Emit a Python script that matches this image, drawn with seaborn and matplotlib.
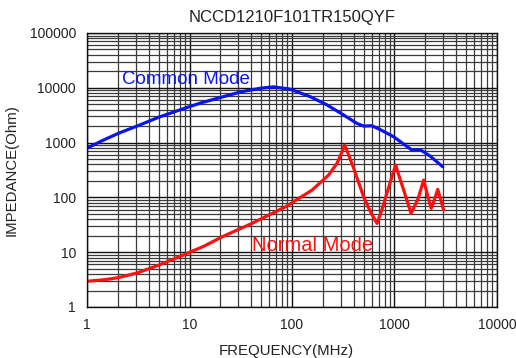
import numpy as np
import pandas as pd
import matplotlib
matplotlib.use("Agg")
import matplotlib.pyplot as plt
import seaborn as sns
from matplotlib.ticker import LogLocator, FixedLocator, NullFormatter

title = "NCCD1210F101TR150QYF"
xlabel = "FREQUENCY(MHz)"
ylabel = "IMPEDANCE(Ohm)"

cm_freq = [1, 1.4, 2.03, 3.07, 5, 8.4, 12.7, 20.7, 32.5, 50.9, 66, 96, 150, 219, 318, 430, 500, 600, 720, 980, 1480, 1785, 2220, 2950]
cm_imp = [790, 1080, 1480, 2000, 2900, 4060, 5250, 6770, 8530, 9900, 10400, 9440, 6900, 4880, 3200, 2240, 2000, 2030, 1740, 1280, 730, 740, 570, 363]

nm_freq = [1, 1.5, 2.03, 3.07, 5, 9.1, 14, 20.7, 40.6, 86, 157, 228, 275, 310, 325, 345, 400, 500, 590, 675, 760, 840, 940, 1025, 1120, 1230, 1450, 1700, 1925, 2100, 2280, 2450, 2640, 2850, 3010]
nm_imp = [2.95, 3.15, 3.44, 4.17, 5.8, 9.2, 13, 19, 33.5, 67, 136, 257, 418, 700, 904, 700, 340, 102, 52, 33.5, 62, 118, 230, 390, 230, 136, 51, 95, 207, 110, 63, 90, 140, 85, 59]

xticks = [1, 10, 100, 1000, 10000]
xticklabels = ["1", "10", "100", "1000", "10000"]
yticks = [1, 10, 100, 1000, 10000, 100000]
yticklabels = ["1", "10", "100", "1000", "10000", "100000"]

df = pd.concat([
    pd.DataFrame({"f": cm_freq, "z": cm_imp, "mode": "Common Mode"}),
    pd.DataFrame({"f": nm_freq, "z": nm_imp, "mode": "Normal Mode"}),
])

sns.set_theme(style="white")
plt.rcParams["font.family"] = ["Liberation Sans", "DejaVu Sans"]

fig = plt.figure(figsize=(5.16, 3.58), dpi=100)
ax = fig.add_axes([87/516, 1 - 307/358, (497-87)/516, (307-33)/358])

sns.lineplot(data=df, x="f", y="z", hue="mode", palette={"Common Mode": "#0a14f0", "Normal Mode": "#ff1010"},
             linewidth=2.3, legend=False, ax=ax, sort=False, estimator=None)
for ln in ax.lines:
    ln.set_solid_joinstyle("round")
    ln.set_solid_capstyle("round")

ax.set_xscale("log")
ax.set_yscale("log")
ax.set_xlim(1, 10000)
ax.set_ylim(1, 100000)

ax.xaxis.set_major_locator(FixedLocator(xticks))
ax.set_xticklabels(xticklabels)
ax.yaxis.set_major_locator(FixedLocator(yticks))
ax.set_yticklabels(yticklabels)
ax.xaxis.set_minor_locator(LogLocator(base=10, subs=np.arange(2, 10)))
ax.yaxis.set_minor_locator(LogLocator(base=10, subs=np.arange(2, 10)))
ax.xaxis.set_minor_formatter(NullFormatter())
ax.yaxis.set_minor_formatter(NullFormatter())

ax.grid(True, which="major", color="#111111", linewidth=1.0)
ax.grid(True, which="minor", color="#3a3a3a", linewidth=0.9)
ax.set_axisbelow(True)
ax.tick_params(which="both", length=0, labelsize=10, colors="#222222", pad=8)
for s in ax.spines.values():
    s.set_color("#111111")
    s.set_linewidth(1)

ax.set_xlabel(xlabel, fontsize=10.8, color="#222222", labelpad=8)
ax.xaxis.set_label_coords(0.485, -0.135)
ax.set_ylabel(ylabel, fontsize=10.8, color="#222222", labelpad=8)
ax.set_title(title, fontsize=12, color="#222222", pad=8)

ax.text(2.2, 13960, "Common Mode", color="#0a14f0", fontsize=13.5, va="center", ha="left")
ax.text(41, 13.5, "Normal Mode", color="#ff1010", fontsize=14.5, va="center", ha="left")

fig.savefig("out.png", dpi=100)
